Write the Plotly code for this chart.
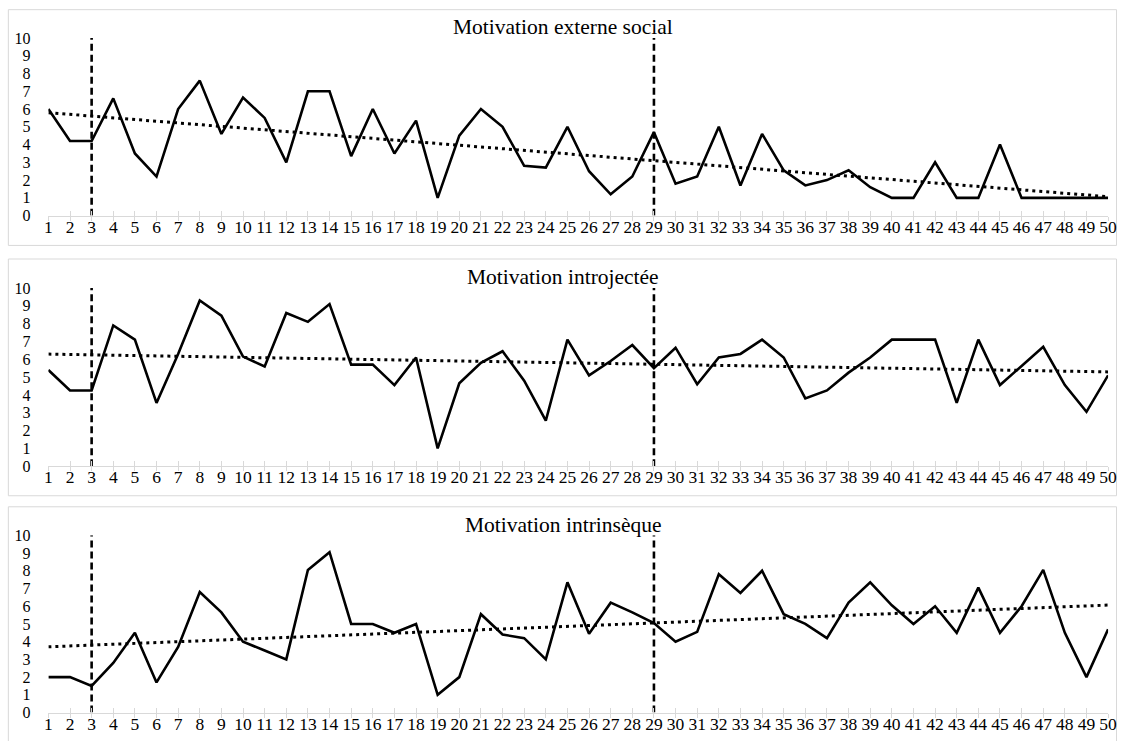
import numpy as np
import plotly.graph_objects as go

sessions = list(range(1, 51))

externe_social = [6.0, 4.2, 4.2, 6.6, 3.5, 2.2, 6.0, 7.6, 4.6, 6.65,
                  5.5, 3.0, 7.0, 7.0, 3.35, 6.0, 3.5, 5.35, 1.0, 4.5,
                  6.0, 5.0, 2.8, 2.7, 5.0, 2.5, 1.2, 2.2, 4.7, 1.8,
                  2.2, 5.0, 1.7, 4.6, 2.55, 1.7, 2.0, 2.55, 1.6, 1.0,
                  1.0, 3.0, 1.0, 1.0, 4.0, 1.0, 1.0, 1.0, 1.0, 1.0]

introjectee = [5.4, 4.25, 4.25, 7.9, 7.1, 3.55, 6.3, 9.3, 8.45, 6.15,
               5.6, 8.6, 8.1, 9.1, 5.7, 5.7, 4.55, 6.1, 1.0, 4.65,
               5.8, 6.45, 4.8, 2.55, 7.1, 5.1, 5.9, 6.8, 5.5, 6.65,
               4.6, 6.1, 6.3, 7.1, 6.1, 3.8, 4.25, 5.25, 6.1, 7.1,
               7.1, 7.1, 3.55, 7.1, 4.55, 5.65, 6.7, 4.55, 3.05, 5.1]

intrinseque = [2.0, 2.0, 1.5, 2.8, 4.5, 1.7, 3.7, 6.8, 5.65, 4.0,
               3.5, 3.0, 8.05, 9.05, 5.0, 5.0, 4.5, 5.0, 1.0, 2.0,
               5.55, 4.4, 4.2, 3.0, 7.35, 4.45, 6.2, 5.65, 5.05, 4.0,
               4.55, 7.8, 6.75, 8.0, 5.55, 5.0, 4.2, 6.2, 7.35, 6.05,
               5.0, 6.0, 4.5, 7.05, 4.5, 6.0, 8.05, 4.5, 2.0, 4.7]

titles = ["Motivation externe social", "Motivation introjectée", "Motivation intrinsèque"]
series = [externe_social, introjectee, intrinseque]
phase_changes = [3, 29]
y_ticks = list(range(0, 11))

W, H = 1126, 741


def fx(x):
    return x / W


def fy(y):
    return 1 - y / H


# pixel layout of each panel: plot top, plot bottom, frame top, frame bottom, title y
panels = [(30.7, 212.5, 1.7, 243.0, 19.2),
          (286.6, 468.9, 256.9, 499.2, 275.3),
          (539.7, 721.1, 510.5, 760, 529.0)]
x_left, x_right = 44.9, 1117

fig = go.Figure()
font_family = "Liberation Serif, Times New Roman, serif"
xtick_font = dict(family=font_family, size=17.5, color="black")
ytick_font = dict(family=font_family, size=16, color="black")

for i, (title, vals) in enumerate(zip(titles, series)):
    top, bot, ftop, fbot, ty = panels[i]
    n = i + 1
    xa = "xaxis" if n == 1 else f"xaxis{n}"
    ya = "yaxis" if n == 1 else f"yaxis{n}"
    xr = "x" if n == 1 else f"x{n}"
    yr = "y" if n == 1 else f"y{n}"
    xo = f"x{n + 3}"
    xoa = f"xaxis{n + 3}"

    fig.add_trace(go.Scatter(x=sessions, y=vals, mode="lines",
                             line=dict(color="black", width=2.6),
                             xaxis=xr, yaxis=yr, showlegend=False,
                             cliponaxis=False))
    coef = np.polyfit(sessions, vals, 1)
    trend = np.polyval(coef, sessions)
    fig.add_trace(go.Scatter(x=sessions, y=trend, mode="lines",
                             line=dict(color="black", width=3, dash="3px,4px"),
                             xaxis=xr, yaxis=yr, showlegend=False))
    for pc in phase_changes:
        fig.add_trace(go.Scatter(x=[pc, pc], y=[y_ticks[0], y_ticks[-1]], mode="lines",
                                 line=dict(color="black", width=2.6, dash="7px,4px"),
                                 xaxis=xr, yaxis=yr, showlegend=False))
    # invisible trace on an overlay axis so its ticks (below the axis line) are drawn
    fig.add_trace(go.Scatter(x=sessions, y=vals, mode="lines", line=dict(width=0),
                             opacity=0, hoverinfo="skip",
                             xaxis=xo, yaxis=yr, showlegend=False))

    dom = [fx(x_left), fx(x_right)]
    fig.update_layout(**{
        xa: dict(domain=dom, range=[1, 50],
                 anchor=yr, tickmode="array", tickvals=sessions,
                 ticktext=[str(s) for s in sessions],
                 showline=True, linecolor="#d9d9d9", linewidth=1,
                 ticks="inside", ticklen=5, tickcolor="#d9d9d9", tickwidth=1,
                 showgrid=False, zeroline=False, ticklabeloverflow="allow",
                 tickfont=xtick_font, ticklabelstandoff=-5),
        xoa: dict(domain=dom, range=[1, 50], overlaying=xr,
                  anchor=yr, side="bottom", tickmode="array", tickvals=sessions,
                  showticklabels=False, showline=False,
                  ticks="outside", ticklen=4, tickcolor="#d9d9d9", tickwidth=1,
                  showgrid=False, zeroline=False),
        ya: dict(domain=[fy(bot), fy(top)], range=[0, 10],
                 anchor=xr, tickmode="array", tickvals=y_ticks,
                 showline=False, showgrid=False, zeroline=False, ticks="",
                 tickfont=ytick_font, ticklabelstandoff=17),
    })

    fig.add_shape(type="rect", xref="paper", yref="paper",
                  x0=fx(4.4), x1=fx(1125.5), y0=fy(fbot), y1=fy(ftop),
                  line=dict(color="#d9d9d9", width=1), fillcolor="rgba(0,0,0,0)", layer="below")
    fig.add_annotation(text=title, xref="paper", yref="paper", x=fx(566), y=fy(ty),
                       showarrow=False, xanchor="center", yanchor="middle",
                       font=dict(family=font_family, size=21.5, color="black"))

fig.update_layout(width=W, height=H, margin=dict(l=0, r=0, t=0, b=0),
                  paper_bgcolor="white", plot_bgcolor="white")

fig.write_html("out.html", config={"displayModeBar": False},
               post_script="document.body.style.margin='0';"
                           "document.body.style.overflow='hidden';"
                           "document.documentElement.style.overflow='hidden';")
